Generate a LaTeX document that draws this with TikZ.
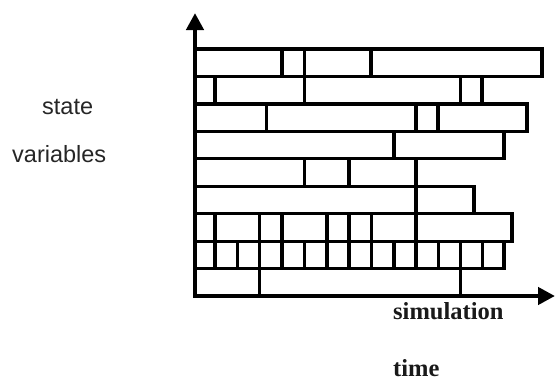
\documentclass[tikz,border=0pt]{standalone}
\usepackage{fontspec}
\setmainfont{Liberation Serif}
\newfontfamily\labelsans{Liberation Sans}
\usetikzlibrary{arrows.meta}

\tikzset{
  rowline/.style={line width=3.2pt, line join=miter},
  cutline/.style={line width=3.6pt},
  axisline/.style={line width=4.8pt, line join=miter,
    {Triangle[length=17pt,width=17pt]}-{Triangle[length=17pt,width=17pt]}},
  sidelabel/.style={font=\labelsans\fontsize{23.5}{27}\selectfont, anchor=base west, inner sep=0pt, text=black!85},
  timelabel/.style={font=\bfseries\fontsize{24.5}{28}\selectfont, anchor=base west, inner sep=0pt, text=black!90}
}

\begin{document}
\begin{tikzpicture}[x=1pt,y=-1pt]
  \useasboundingbox (0,0) rectangle (557,381);
  \fill[white] (0,0) rectangle (557,381);

  % one bar of intervals per state variable: top/bottom/right end/{interval cuts}
  \foreach \ytop/\ybot/\xend/\cuts in {
      49/76.4/542/{282,304.5,371},
      76.4/103.9/482/{215,304.5,460.6},
      103.9/131.3/527/{266.5,416,438},
      131.3/158.8/504/{393.7},
      158.8/186.2/416/{304.5,349},
      186.2/213.6/474/{416},
      213.6/241.1/512/{215,259.5,282,327,349,371.4,416},
      241.1/268.5/504/{215,237.6,259.5,282,304.5,327,349,371.4,393.7,416,438.3,460.6,482.5}} {
    \draw[rowline] (195,\ytop) rectangle (\xend,\ybot);
    \foreach \c in \cuts {
      \draw[cutline] (\c,\ytop) -- (\c,\ybot);
    }
  }
  % last bar lies on the time axis
  \foreach \c in {259.5,460.6} {
    \draw[cutline] (\c,268.5) -- (\c,296);
  }

  % axes
  \coordinate (ytip) at (195,13);
  \coordinate (origin) at (195,296);
  \coordinate (xtip) at (555,296);
  \draw[axisline] (ytip) -- (origin) -- (xtip);

  % labels
  \node[sidelabel] (state) at (42,114) {state};
  \node[sidelabel] (vars) at (12,162) {variables};
  \node[timelabel] (sim) at (393,319) {simulation};
  \node[timelabel] (time) at (393,376) {time};
\end{tikzpicture}
\end{document}
